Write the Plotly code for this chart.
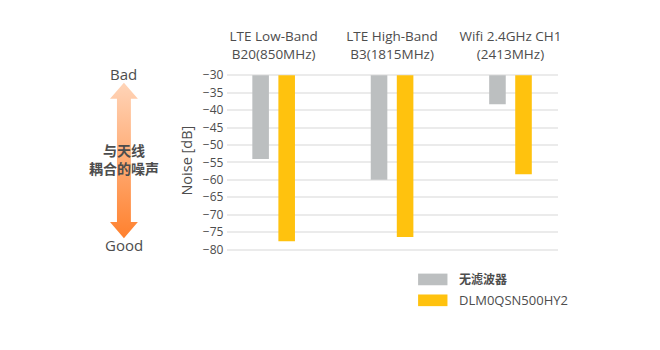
import plotly.graph_objects as go

# Measured noise coupled into the antenna, per band (dB)
bands = ["LTE Low-Band<br>B20(850MHz)", "LTE High-Band<br>B3(1815MHz)", "Wifi 2.4GHz CH1<br>(2413MHz)"]
series_names = ["无滤波器", "DLM0QSN500HY2"]
noise_no_filter = [-54.0, -60.0, -38.3]
noise_with_filter = [-77.6, -76.4, -58.4]
y_ticks = [-30, -35, -40, -45, -50, -55, -60, -65, -70, -75, -80]
baseline = -30

colors = ["#bcbfc0", "#ffc20e"]
text_color = "#4d4d4d"
font_family = "Open Sans, Noto Sans CJK SC, sans-serif"

W, H = 660, 350
xs = list(range(len(bands)))

fig = go.Figure()

# Bars hang down from the -30 dB baseline
for name, vals, col, off in [
    (series_names[0], noise_no_filter, colors[0], -0.18),
    (series_names[1], noise_with_filter, colors[1], 0.04),
]:
    fig.add_trace(go.Bar(
        x=xs, y=[v - baseline for v in vals], base=baseline,
        width=0.14, offset=off, name=name,
        marker=dict(color=col, line=dict(width=0)),
        showlegend=False, xaxis="x", yaxis="y",
    ))

# Double-headed gradient arrow (Bad -> Good) on a pixel-space overlay axis
cx, top, bot = 124.5, 80, 240
hw, sw, hh = 14, 7, 16.5
ax = [cx, cx + hw, cx + sw, cx + sw, cx + hw, cx, cx - hw, cx - sw, cx - sw, cx - hw, cx]
ay = [top, top + hh, top + hh, bot - hh, bot - hh, bot, bot - hh, bot - hh, top + hh, top + hh, top]
fig.add_trace(go.Scatter(
    x=ax, y=ay, mode="lines", fill="toself", line=dict(width=0),
    fillgradient=dict(type="vertical", start=top, stop=bot,
                      colorscale=[[0, "#ffd3b6"], [1, "#ff7d28"]]),
    xaxis="x2", yaxis="y2", showlegend=False, hoverinfo="skip",
))

annotations = [
    dict(x=cx, y=71, text="Bad", font=dict(size=15)),
    dict(x=cx, y=247.5, text="Good", font=dict(size=15)),
    dict(x=cx, y=159.5, text="<b>与天线</b><br><b>耦合的噪声</b>", font=dict(size=14)),
    dict(x=187, y=160, text="Noise [dB]", textangle=-90, font=dict(size=14.5)),
]

# Legend drawn as wide swatches with labels
shapes = []
for i, (name, col) in enumerate(zip(series_names, colors)):
    yc = 282.5 + i * 21.5
    shapes.append(dict(type="rect", xref="x2", yref="y2", x0=420, x1=449.5,
                       y0=yc - 6, y1=yc + 6, fillcolor=col, line=dict(width=0)))
    label = f"<b>{name}</b>" if i == 0 else name
    annotations.append(dict(x=459, y=yc, text=label, xanchor="left",
                            font=dict(size=13 if i else 12)))

for a in annotations:
    a.setdefault("xanchor", "center")
    a.update(xref="x2", yref="y2", showarrow=False, yanchor="middle")
    a["font"] = dict(family=font_family, color=text_color, **a["font"])

fig.update_layout(
    width=W, height=H,
    margin=dict(l=0, r=0, t=0, b=0),
    paper_bgcolor="white", plot_bgcolor="rgba(0,0,0,0)",
    barmode="overlay",
    font=dict(family=font_family, color=text_color, size=12),
    xaxis=dict(
        domain=[228.5 / W, 561 / W], range=[-0.39, 2.405],
        side="top", tickmode="array", tickvals=xs, ticktext=bands,
        showgrid=False, zeroline=False, showline=False, ticks="",
        tickfont=dict(size=13.5, color=text_color), ticklabelstandoff=9,
    ),
    yaxis=dict(
        domain=[1 - 255.3 / H, 1 - 68.7 / H], range=[-81, -29],
        tickmode="array", tickvals=y_ticks,
        showgrid=True, gridcolor="#ebebeb", gridwidth=2,
        zeroline=False, showline=False, ticks="",
        tickfont=dict(size=12, color=text_color), ticklabelstandoff=3,
    ),
    xaxis2=dict(domain=[0, 1], range=[0, W], visible=False, fixedrange=True,
                anchor="y2"),
    yaxis2=dict(domain=[0, 1], range=[H, 0], visible=False, fixedrange=True,
                anchor="x2"),
    annotations=annotations,
    shapes=shapes,
)

fig.write_html("out.html")
